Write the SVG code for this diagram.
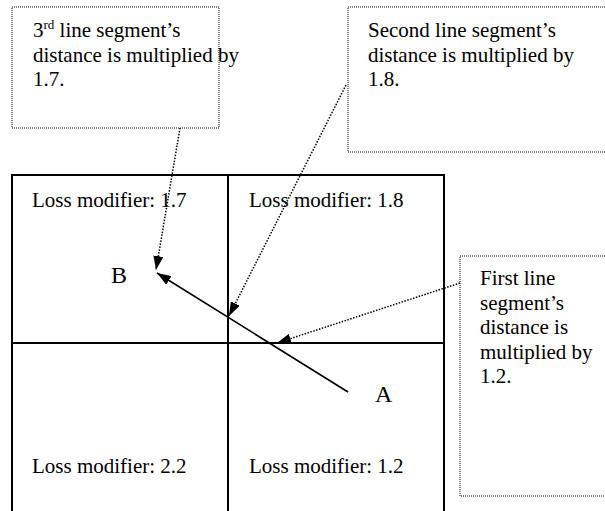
<svg xmlns="http://www.w3.org/2000/svg" width="605" height="511" viewBox="0 0 605 511">
<style>
text{font-family:"Liberation Serif","Times New Roman",serif;fill:#000}
.t{font-size:21px}
.big{font-size:24px}
.note{fill:#fff;stroke:#000;stroke-width:1;stroke-dasharray:1 1}
.grid{fill:none;stroke:#000;stroke-width:2}
.solid{stroke:#000;stroke-width:1.6;fill:none}
.dot{stroke:#000;stroke-width:1.5;fill:none;stroke-dasharray:1.5 1.5}
</style>
<defs>
<marker id="ah" viewBox="0 0 14 10" refX="14" refY="5" markerWidth="14" markerHeight="10" markerUnits="userSpaceOnUse" orient="auto">
<path d="M0,0 L14,5 L0,10 Z" fill="#000"/>
</marker>
</defs>
<rect width="605" height="511" fill="#fff"/>
<g id="grid">
<rect class="grid" x="12" y="175" width="432" height="345"/>
<line class="grid" x1="228" y1="175" x2="228" y2="512"/>
<line class="grid" x1="12" y1="343" x2="444" y2="343"/>
<text class="t" x="32" y="207">Loss modifier: 1.7</text>
<text class="t" x="249" y="207">Loss modifier: 1.8</text>
<text class="t" x="32" y="473">Loss modifier: 2.2</text>
<text class="t" x="249" y="473">Loss modifier: 1.2</text>
</g>
<g id="note3">
<rect class="note" x="12" y="7" width="207" height="121"/>
<text class="t" x="33" y="37">3<tspan font-size="13" dy="-8">rd</tspan><tspan dy="8"> line segment’s</tspan></text>
<text class="t" x="33" y="62">distance is multiplied by</text>
<text class="t" x="33" y="86">1.7.</text>
</g>
<g id="note2">
<rect class="note" x="348" y="7" width="270" height="145"/>
<text class="t" x="368" y="37">Second line segment’s</text>
<text class="t" x="368" y="62">distance is multiplied by</text>
<text class="t" x="368" y="86">1.8.</text>
</g>
<g id="note1">
<rect class="note" x="460" y="256" width="160" height="240"/>
<text class="t" x="480" y="285">First line</text>
<text class="t" x="480" y="309.5">segment’s</text>
<text class="t" x="480" y="334">distance is</text>
<text class="t" x="480" y="358.5">multiplied by</text>
<text class="t" x="480" y="383">1.2.</text>
</g>
<g id="pointB"><text class="big" x="111" y="283">B</text></g>
<g id="pointA"><text class="big" x="375" y="402">A</text></g>
<g id="connectors">
<line class="solid" x1="348" y1="392" x2="157" y2="273" marker-end="url(#ah)"/>
<line class="dot" x1="180" y1="128" x2="156" y2="270" marker-end="url(#ah)"/>
<line class="dot" x1="346" y1="85" x2="229" y2="316" marker-end="url(#ah)"/>
<line class="dot" x1="460" y1="283" x2="277" y2="343" marker-end="url(#ah)"/>
</g>
</svg>
